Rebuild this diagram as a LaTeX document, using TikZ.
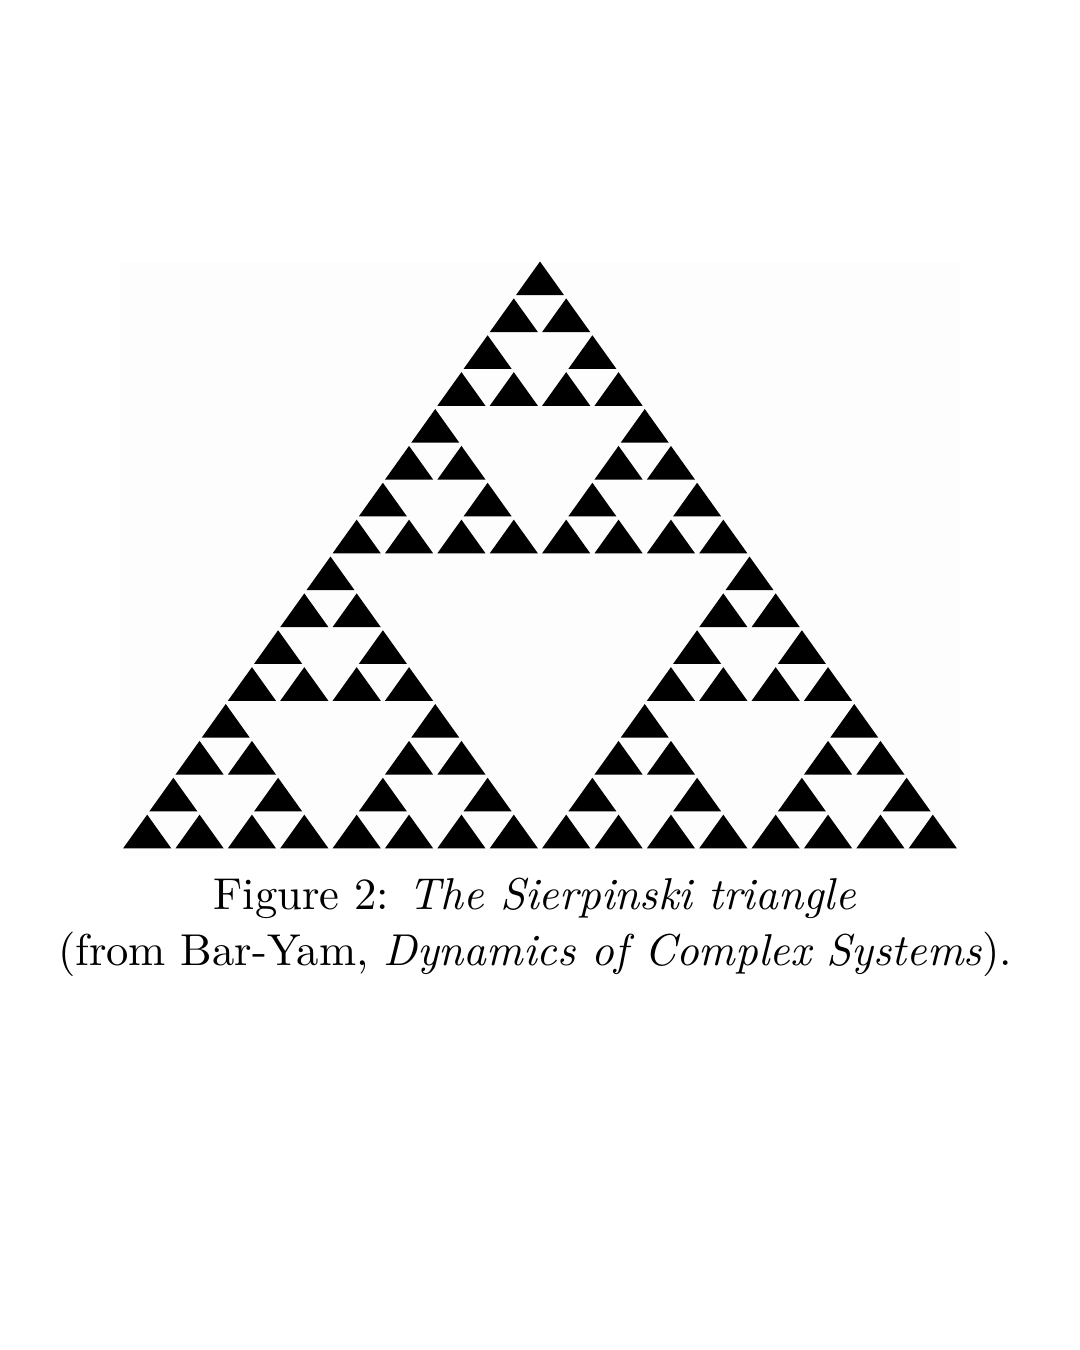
\documentclass[tikz,border=0pt]{standalone}
\begin{document}
\begin{tikzpicture}[x=0.2242pt,y=-0.2242pt,
  tri/.style={fill=black},
  captext/.style={anchor=base,inner sep=0pt}]
\useasboundingbox (0,0) rectangle (1080,1350);
\fill[white] (0,0) rectangle (1080,1350);
\fill[black!0.6] (120,262) rectangle (960,856);
\def\W{52.375}
\def\H{36.875}
\foreach \xa/\ya in {0/0,-4/8,4/8}
 \foreach \xb/\yb in {0/0,-2/4,2/4}
  \foreach \xc/\yc in {0/0,-1/2,1/2}
   \foreach \xd/\yd in {0/0,-0.5/1,0.5/1}
   {
     \pgfmathsetmacro\cx{540+(\xa+\xb+\xc+\xd)*\W}
     \pgfmathsetmacro\cy{260+(\ya+\yb+\yc+\yd)*\H}
     \fill[tri] (\cx,\cy+1.5) -- (\cx-0.46*\W,\cy+0.955*\H) -- (\cx+0.46*\W,\cy+0.955*\H) -- cycle;
   }
\node[captext] (cap1) at (535,909) {Figure 2: \textit{The Sierpinski triangle}};
\node[captext] (cap2) at (535,965) {(from Bar-Yam, \textit{Dynamics of Complex Systems}).};
\end{tikzpicture}
\end{document}
